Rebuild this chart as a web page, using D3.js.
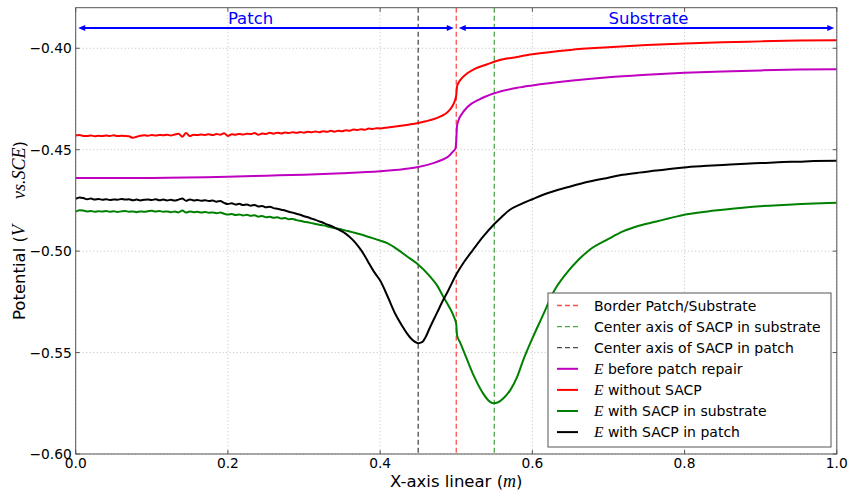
<!DOCTYPE html>
<html>
<head>
<meta charset="utf-8">
<script src="https://cdn.jsdelivr.net/npm/d3@7"></script>
<style>
  html, body { margin: 0; padding: 0; background: #fff; }
  svg { display: block; }
  text { font-family: "DejaVu Sans", sans-serif; }
</style>
</head>
<body>
<svg id="chart" width="850" height="496"></svg>
<script>
// ---------------- DATA ----------------
const xTicks = [0.0, 0.2, 0.4, 0.6, 0.8, 1.0];
const xTickLabels = ["0.0", "0.2", "0.4", "0.6", "0.8", "1.0"];
const yTicks = [-0.60, -0.55, -0.50, -0.45, -0.40];
const yTickLabels = ["\u22120.60", "\u22120.55", "\u22120.50", "\u22120.45", "\u22120.40"];

// sample positions in the (noisy) patch region
const xPatch = [0,0.005,0.01,0.015,0.02,0.025,0.03,0.035,0.04,0.045,0.05,0.055,0.06,0.065,0.07,0.075,0.08,0.085,0.09,0.095,
  0.1,0.105,0.11,0.115,0.12,0.125,0.13,0.135,0.14,0.145,0.15,0.155,0.16,0.165,0.17,0.175,0.18,0.185,0.19,0.195,
  0.2,0.205,0.21,0.215,0.22,0.225,0.23,0.235,0.24,0.245,0.25,0.255,0.26,0.265,0.27,0.275,0.28,0.285,0.29,0.295,
  0.3,0.305,0.31,0.315,0.32,0.325,0.33,0.335,0.34,0.345,0.35,0.355,0.36,0.365,0.37,0.375,0.38,0.385,0.39,0.395,0.4];

// E without SACP (red)
const redPatchY = [-0.4430,-0.4428,-0.4432,-0.4433,-0.4430,-0.4434,-0.4431,-0.4433,-0.4430,-0.4432,
  -0.4429,-0.4433,-0.4431,-0.4432,-0.4434,-0.4441,-0.4436,-0.4431,-0.4429,-0.4431,
  -0.4428,-0.4430,-0.4427,-0.4429,-0.4426,-0.4430,-0.4425,-0.4421,-0.4436,-0.4418,
  -0.4433,-0.4426,-0.4428,-0.4425,-0.4427,-0.4424,-0.4428,-0.4423,-0.4426,-0.4419,
  -0.4432,-0.4424,-0.4426,-0.4422,-0.4425,-0.4421,-0.4423,-0.4418,-0.4426,-0.4420,
  -0.4422,-0.4417,-0.4421,-0.4416,-0.4420,-0.4415,-0.4418,-0.4414,-0.4417,-0.4413,
  -0.4416,-0.4412,-0.4414,-0.4410,-0.4414,-0.4409,-0.4412,-0.4407,-0.4411,-0.4406,
  -0.4409,-0.4404,-0.4406,-0.4401,-0.4403,-0.4399,-0.4402,-0.4396,-0.4398,-0.4394,-0.4395];
const redTail = [[0.41,-0.4390],[0.42,-0.4386],[0.43,-0.4381],[0.44,-0.4375],[0.45,-0.4368],[0.46,-0.4360],
  [0.47,-0.4350],[0.48,-0.4335],[0.49,-0.4310],[0.495,-0.4285],[0.498,-0.4260],[0.5,-0.4230],[0.501,-0.4190],
  [0.503,-0.4170],[0.508,-0.4145],[0.515,-0.4122],[0.525,-0.4100],[0.54,-0.4080],[0.555,-0.4060],[0.58,-0.4043],
  [0.6,-0.4030],[0.65,-0.4008],[0.7,-0.3995],[0.75,-0.3984],[0.8,-0.3976],[0.85,-0.3970],[0.9,-0.3966],
  [0.95,-0.3962],[1.0,-0.3960]];

// E before patch repair (magenta)
const magenta = [[0,-0.4640],[0.1,-0.4639],[0.2,-0.4633],[0.25,-0.4628],[0.3,-0.4623],[0.35,-0.4616],[0.4,-0.4606],
  [0.43,-0.4596],[0.45,-0.4585],[0.47,-0.4566],[0.48,-0.4552],[0.49,-0.4532],[0.495,-0.4512],[0.499,-0.4493],
  [0.5,-0.4455],[0.501,-0.4385],[0.503,-0.4355],[0.508,-0.4320],[0.515,-0.4288],[0.53,-0.4253],[0.55,-0.4222],
  [0.58,-0.4195],[0.6,-0.4183],[0.65,-0.4160],[0.7,-0.4143],[0.75,-0.4131],[0.8,-0.4121],[0.85,-0.4114],
  [0.9,-0.4109],[0.95,-0.4105],[1.0,-0.4103]];

// E with SACP in patch (black)
const blackPatchY = [-0.4742,-0.4735,-0.4738,-0.4744,-0.4741,-0.4746,-0.4743,-0.4747,-0.4744,-0.4748,
  -0.4745,-0.4747,-0.4743,-0.4746,-0.4744,-0.4749,-0.4746,-0.4750,-0.4747,-0.4745,
  -0.4748,-0.4744,-0.4749,-0.4746,-0.4750,-0.4747,-0.4751,-0.4746,-0.4740,-0.4752,
  -0.4745,-0.4750,-0.4748,-0.4752,-0.4749,-0.4753,-0.4750,-0.4756,-0.4753,-0.4762,
  -0.4768,-0.4764,-0.4770,-0.4767,-0.4773,-0.4770,-0.4776,-0.4772,-0.4780,-0.4777,
  -0.4784,-0.4781,-0.4788,-0.4791,-0.4796,-0.4800,-0.4806,-0.4810,-0.4816,-0.4821,
  -0.4828,-0.4833,-0.4840,-0.4846,-0.4853,-0.4860,-0.4868,-0.4875,-0.4884,-0.4893,
  -0.4903,-0.4915,-0.4930,-0.4948,-0.4970,-0.4995,-0.5025,-0.5058,-0.5090,-0.5118,-0.5145];
const blackTail = [[0.41,-0.5225],[0.42,-0.5310],[0.43,-0.5375],[0.435,-0.5404],[0.44,-0.5428],[0.445,-0.5445],
  [0.45,-0.5454],[0.455,-0.5449],[0.46,-0.5422],[0.465,-0.5380],[0.475,-0.5302],[0.483,-0.5240],[0.49,-0.5190],
  [0.5,-0.5115],[0.51,-0.5055],[0.522,-0.4994],[0.535,-0.4930],[0.55,-0.4866],[0.56,-0.4830],[0.57,-0.4797],
  [0.585,-0.4768],[0.6,-0.4744],[0.615,-0.4721],[0.631,-0.4701],[0.65,-0.4681],[0.675,-0.4657],[0.7,-0.4638],
  [0.719,-0.4624],[0.74,-0.4613],[0.763,-0.4603],[0.78,-0.4595],[0.803,-0.4586],[0.83,-0.4579],[0.85,-0.4575],
  [0.88,-0.4569],[0.9,-0.4566],[0.93,-0.4561],[0.95,-0.4559],[0.97,-0.4556],[1.0,-0.4555]];

// E with SACP in substrate (green)
const greenPatchY = [-0.4805,-0.4798,-0.4800,-0.4804,-0.4802,-0.4806,-0.4803,-0.4805,-0.4802,-0.4806,
  -0.4803,-0.4807,-0.4804,-0.4802,-0.4806,-0.4804,-0.4808,-0.4804,-0.4806,-0.4803,
  -0.4801,-0.4805,-0.4802,-0.4806,-0.4804,-0.4808,-0.4805,-0.4809,-0.4800,-0.4810,
  -0.4804,-0.4808,-0.4806,-0.4810,-0.4807,-0.4811,-0.4809,-0.4813,-0.4810,-0.4816,
  -0.4820,-0.4817,-0.4822,-0.4819,-0.4824,-0.4821,-0.4826,-0.4823,-0.4830,-0.4827,
  -0.4833,-0.4830,-0.4836,-0.4833,-0.4839,-0.4837,-0.4843,-0.4841,-0.4847,-0.4850,
  -0.4855,-0.4858,-0.4862,-0.4866,-0.4870,-0.4873,-0.4877,-0.4882,-0.4886,-0.4890,
  -0.4894,-0.4899,-0.4903,-0.4908,-0.4913,-0.4918,-0.4924,-0.4930,-0.4936,-0.4942,-0.4948];
const greenTail = [[0.41,-0.4962],[0.424,-0.4995],[0.435,-0.5025],[0.448,-0.5060],[0.466,-0.5127],[0.475,-0.5170],
  [0.483,-0.5225],[0.49,-0.5270],[0.497,-0.5324],[0.5,-0.5360],[0.501,-0.5414],[0.505,-0.5450],[0.51,-0.5495],
  [0.518,-0.5570],[0.525,-0.5630],[0.535,-0.5700],[0.542,-0.5735],[0.549,-0.5750],[0.555,-0.5745],[0.562,-0.5725],
  [0.571,-0.5685],[0.58,-0.5620],[0.588,-0.5537],[0.6,-0.5430],[0.615,-0.5307],[0.627,-0.5207],[0.645,-0.5108],
  [0.66,-0.5045],[0.675,-0.4994],[0.7,-0.4940],[0.719,-0.4903],[0.74,-0.4875],[0.763,-0.4854],[0.78,-0.4838],
  [0.803,-0.4818],[0.84,-0.4800],[0.886,-0.4782],[0.93,-0.4772],[0.97,-0.4765],[1.0,-0.4762]];

// vertical reference lines
const borderX = 0.5;
const centerSubstrateX = 0.55;
const centerPatchX = 0.45;

// region annotations
const regionNames = ["Patch", "Substrate"];
const regionSpans = [[0.0, 0.5], [0.5, 1.0]];
const regionLabelX = [0.2, 0.7];
const regionArrowY = -0.39;

const legendLabels = ["Border Patch/Substrate", "Center axis of SACP in substrate", "Center axis of SACP in patch",
  " before patch repair", " without SACP", " with SACP in substrate", " with SACP in patch"];

// ---------------- DRAW ----------------
const svg = d3.select("#chart");
const W = 850, H = 496;
const plot = { left: 75.7, right: 836.8, top: 7.7, bottom: 454 };

const x = d3.scaleLinear().domain([0, 1]).range([plot.left, plot.right]);
const y = d3.scaleLinear().domain([-0.60, -0.38]).range([plot.bottom, plot.top]);

svg.append("rect").attr("width", W).attr("height", H).attr("fill", "#fff");

svg.append("defs").append("clipPath").attr("id", "clip")
  .append("rect").attr("x", plot.left).attr("y", plot.top)
  .attr("width", plot.right - plot.left).attr("height", plot.bottom - plot.top);

// grid
const grid = svg.append("g").attr("stroke", "#b0b0b0").attr("stroke-width", 0.8).attr("stroke-dasharray", "1,2.5");
xTicks.forEach(t => {
  grid.append("line").attr("x1", x(t)).attr("x2", x(t)).attr("y1", plot.top).attr("y2", plot.bottom);
});
yTicks.forEach(t => {
  grid.append("line").attr("x1", plot.left).attr("x2", plot.right).attr("y1", y(t)).attr("y2", y(t));
});

const g = svg.append("g").attr("clip-path", "url(#clip)");

// dashed vertical lines
const vlines = [
  { v: borderX, color: "#ff0000" },
  { v: centerSubstrateX, color: "#008000" },
  { v: centerPatchX, color: "#000000" }
];
vlines.forEach(d => {
  g.append("line").attr("x1", x(d.v)).attr("x2", x(d.v)).attr("y1", plot.top).attr("y2", plot.bottom)
    .attr("stroke", d.color).attr("stroke-opacity", 0.7).attr("stroke-width", 1.3)
    .attr("stroke-dasharray", "5,3");
});

const line = d3.line().x(d => x(d[0])).y(d => y(d[1])).curve(d3.curveMonotoneX);
const withPatch = (ys, tail) => xPatch.map((xv, i) => [xv, ys[i]]).concat(tail);

const series = [
  { data: magenta, color: "#bf00bf" },
  { data: withPatch(redPatchY, redTail), color: "#ff0000" },
  { data: withPatch(greenPatchY, greenTail), color: "#008000" },
  { data: withPatch(blackPatchY, blackTail), color: "#000000" }
];
series.forEach(s => {
  g.append("path").attr("d", line(s.data)).attr("fill", "none")
    .attr("stroke", s.color).attr("stroke-width", 2).attr("stroke-linejoin", "round");
});

// region arrows
const blue = "#0000ff";
const arr = svg.append("g");
regionSpans.forEach((sp, i) => {
  const x1 = x(sp[0]) + 2.5, x2 = x(sp[1]) - 2.5, yy = y(regionArrowY);
  arr.append("line").attr("x1", x1 + 4).attr("x2", x2 - 4).attr("y1", yy).attr("y2", yy)
    .attr("stroke", blue).attr("stroke-width", 2);
  arr.append("path").attr("d", `M${x1},${yy} L${x1 + 7},${yy - 3} L${x1 + 7},${yy + 3} Z`).attr("fill", blue);
  arr.append("path").attr("d", `M${x2},${yy} L${x2 - 7},${yy - 3} L${x2 - 7},${yy + 3} Z`).attr("fill", blue);
  arr.append("text").attr("x", x(regionLabelX[i])).attr("y", yy - 3.5)
    .attr("fill", blue).attr("font-size", 16.5).text(regionNames[i]);
});

// frame
const frameColor = "#555";
svg.append("rect").attr("x", plot.left).attr("y", plot.top)
  .attr("width", plot.right - plot.left).attr("height", plot.bottom - plot.top)
  .attr("fill", "none").attr("stroke", frameColor).attr("stroke-width", 1);

// ticks (inward, all sides)
const tk = svg.append("g").attr("stroke", frameColor).attr("stroke-width", 1);
xTicks.forEach(t => {
  tk.append("line").attr("x1", x(t)).attr("x2", x(t)).attr("y1", plot.bottom).attr("y2", plot.bottom - 4);
  tk.append("line").attr("x1", x(t)).attr("x2", x(t)).attr("y1", plot.top).attr("y2", plot.top + 4);
});
yTicks.forEach(t => {
  tk.append("line").attr("x1", plot.left).attr("x2", plot.left + 4).attr("y1", y(t)).attr("y2", y(t));
  tk.append("line").attr("x1", plot.right).attr("x2", plot.right - 4).attr("y1", y(t)).attr("y2", y(t));
});

// tick labels
xTicks.forEach((t, i) => {
  svg.append("text").attr("x", x(t)).attr("y", plot.bottom + 13.5).attr("text-anchor", "middle")
    .attr("font-size", 13.8).attr("fill", "#000").text(xTickLabels[i]);
});
yTicks.forEach((t, i) => {
  svg.append("text").attr("x", plot.left - 4).attr("y", y(t) + 5).attr("text-anchor", "end")
    .attr("font-size", 13.8).attr("fill", "#000").text(yTickLabels[i]);
});

// axis labels
const mathFont = "'Liberation Serif', 'DejaVu Serif', serif";
const xl = svg.append("text").attr("x", (plot.left + plot.right) / 2).attr("y", 487)
  .attr("text-anchor", "middle").attr("font-size", 16.5).attr("fill", "#000");
xl.append("tspan").text("X-axis linear (");
xl.append("tspan").attr("font-family", mathFont).attr("font-style", "italic").attr("font-size", 18).text("m");
xl.append("tspan").text(")");

const yl = svg.append("text").attr("transform", "translate(25,320) rotate(-90)")
  .attr("font-size", 16.5).attr("fill", "#000");
yl.append("tspan").text("Potential (");
yl.append("tspan").attr("font-family", mathFont).attr("font-style", "italic").attr("font-size", 18).text("V");
yl.append("tspan").attr("dx", 26).attr("font-family", mathFont).attr("font-style", "italic").attr("font-size", 18).text("vs.SCE");
yl.append("tspan").text(")");

// legend
const lg = svg.append("g");
const box = { x: 548, y: 293, w: 283, h: 154 };
lg.append("rect").attr("x", box.x).attr("y", box.y).attr("width", box.w).attr("height", box.h)
  .attr("fill", "#fff").attr("stroke", frameColor).attr("stroke-width", 1);
const legendStyle = [
  { color: "#ff0000", dash: true }, { color: "#008000", dash: true }, { color: "#000000", dash: true },
  { color: "#bf00bf", dash: false, math: true }, { color: "#ff0000", dash: false, math: true },
  { color: "#008000", dash: false, math: true }, { color: "#000000", dash: false, math: true }
];
legendLabels.forEach((lab, i) => {
  const st = legendStyle[i];
  const yy = 305.5 + i * 21.1;
  const ln = lg.append("line").attr("x1", 557).attr("x2", 578).attr("y1", yy).attr("y2", yy)
    .attr("stroke", st.color);
  if (st.dash) ln.attr("stroke-dasharray", "5,3").attr("stroke-width", 1.3).attr("stroke-opacity", 0.7);
  else ln.attr("stroke-width", 2);
  const t = lg.append("text").attr("x", 594).attr("y", yy + 5).attr("font-size", 14).attr("fill", "#000");
  if (st.math) t.append("tspan").attr("font-family", mathFont).attr("font-style", "italic").attr("font-size", 15.5).text("E");
  t.append("tspan").text(lab);
});
</script>
</body>
</html>
